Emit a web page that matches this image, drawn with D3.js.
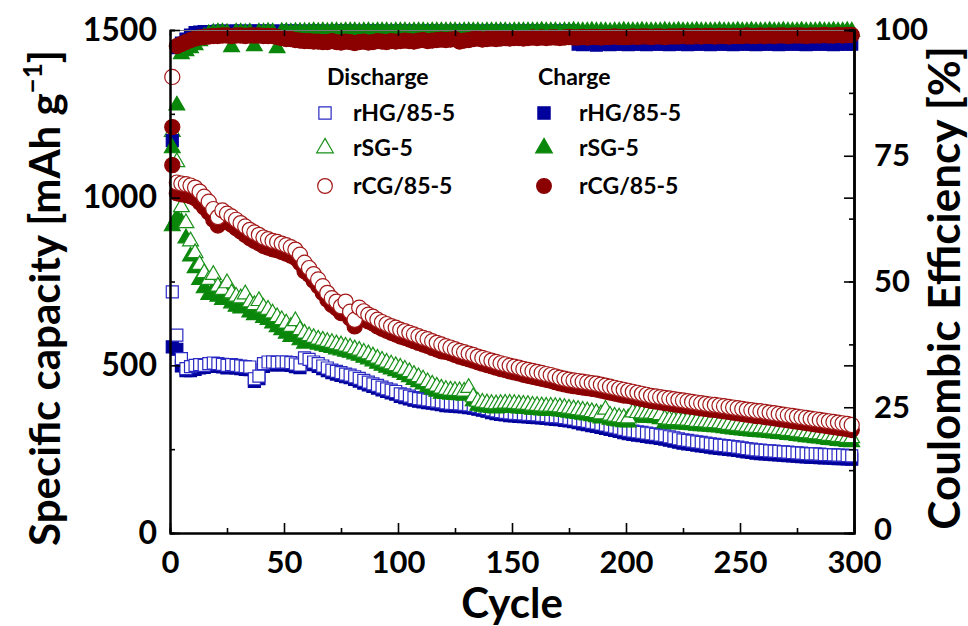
<!DOCTYPE html>
<html>
<head>
<meta charset="utf-8">
<script src="https://cdn.jsdelivr.net/npm/d3@7"></script>
<style>
body { margin: 0; background: #fff; }
text { font-family: Lato, "Open Sans", sans-serif; font-weight: bold; }
</style>
</head>
<body>
<div id="chart"></div>
<script>
// cycle numbers (every second cycle)
var cycles = d3.range(1, 300, 2);

// ---- rHG/85-5
var hgDis = [719,590,520,490,496,500,502,500,505,507,
  505,503,500,502,500,498,496,495,460,468,
  505,510,510,509,510,510,508,504,501,522,
  518,510,505,498,492,486,482,478,474,471,
  466,461,455,450,445,440,435,430,426,422,
  415,412,408,404,401,399,397,395,393,391,
  388,387,386,385,384,382,380,377,374,371,
  367,364,362,360,358,357,356,355,354,353,
  352,351,350,348,347,346,344,342,340,337,
  335,333,330,328,325,322,319,316,313,309,
  306,304,302,300,298,296,294,292,290,287,
  284,281,278,276,274,272,270,268,266,264,
  262,261,259,258,256,254,252,250,248,247,
  246,245,244,243,242,241,240,239,238,237,
  236,236,235,234,234,233,232,232,231,230];
var hgChg = [555,548,498,484,484,488,492,494,497,499,
  497,495,492,494,492,490,488,487,452,460,
  497,502,502,501,502,502,500,496,493,514,
  510,502,497,490,484,478,474,470,466,463,
  458,453,447,442,437,432,427,422,418,414,
  407,404,400,396,393,391,389,387,385,383,
  380,379,378,377,376,374,372,369,366,363,
  359,356,354,352,350,349,348,347,346,345,
  344,343,342,340,339,338,336,334,332,329,
  325,323,320,318,315,312,309,306,303,299,
  296,294,292,290,288,286,284,282,280,277,
  274,271,268,266,264,262,260,258,256,254,
  252,251,249,248,246,244,242,240,238,237,
  236,235,234,233,232,231,230,229,228,227,
  226,226,225,224,224,223,222,222,221,220];
var hgCE = [78.0,96.5,97.4,98.2,99.0,99.5,99.6,99.7,99.7,99.7,
  99.8,99.8,99.7,99.8,99.8,99.8,99.7,99.8,99.8,99.8,
  99.8,99.8,99.8,99.7,99.8,99.8,99.8,99.8,99.8,99.7,
  99.8,99.8,99.8,99.8,99.7,99.8,99.8,99.8,99.8,99.8,
  99.8,99.7,99.8,99.8,99.8,99.8,99.8,99.7,99.8,99.8,
  99.8,99.8,99.8,99.8,99.7,99.8,99.8,99.8,99.8,99.8,
  99.7,99.8,99.8,99.8,99.8,99.8,99.8,99.7,99.8,99.8,
  99.8,99.8,99.8,99.8,99.8,99.7,99.8,99.8,99.8,99.8,
  99.8,99.8,99.7,99.8,99.8,99.8,99.8,99.8,99.8,97.2,
  97.1,97.3,97.2,97.0,97.2,97.3,97.1,97.2,97.3,97.2,
  97.1,97.2,97.3,97.2,97.1,97.2,97.3,97.2,97.2,97.1,
  97.2,97.3,97.2,97.1,97.2,97.2,97.3,97.2,97.1,97.2,
  97.3,97.2,97.2,97.1,97.2,97.3,97.2,97.2,97.1,97.2,
  97.2,97.3,97.2,97.1,97.2,97.2,97.3,97.2,97.2,97.1,
  97.2,97.2,97.3,97.2,97.2,97.1,97.2,97.3,97.2,97.2];

// ---- rSG-5
var sgDis = [1196,1106,972,924,870,835,800,775,755,770,
  735,725,745,715,705,700,712,688,680,692,
  672,666,655,644,635,625,615,632,605,595,
  587,582,577,574,570,567,563,560,556,553,
  548,544,538,533,527,520,514,508,503,498,
  493,487,480,472,465,458,450,443,437,431,
  427,425,424,423,422,433,405,392,389,387,
  385,384,385,386,386,385,384,383,382,380,
  379,378,377,377,376,375,373,371,369,367,
  365,363,361,358,354,368,350,347,345,343,
  342,360,358,357,356,356,355,352,340,338,
  337,337,336,335,334,332,331,330,329,328,
  327,325,323,321,320,318,317,315,314,313,
  312,311,309,308,307,305,304,302,300,298,
  297,295,294,292,290,289,287,286,284,283];
var sgChg = [915,940,927,879,825,790,755,730,710,725,
  705,695,715,685,675,670,682,658,650,662,
  642,636,625,614,605,595,585,602,575,565,
  572,567,562,559,555,552,548,545,541,538,
  533,529,523,518,512,505,499,493,488,483,
  478,472,465,457,450,443,435,428,422,416,
  415,413,412,411,410,421,393,380,377,375,
  373,372,373,374,374,373,372,371,370,368,
  367,366,365,365,364,363,361,359,357,355,
  353,351,349,346,342,356,338,335,333,331,
  330,348,346,345,344,344,343,340,328,326,
  325,325,324,323,322,320,319,318,317,316,
  315,313,311,309,308,306,305,303,302,301,
  300,299,297,296,295,293,292,290,288,286,
  285,283,282,280,278,277,275,274,272,271];
var sgCE = [76.5,85.0,95.2,95.8,96.4,97.0,97.8,98.6,99.2,99.4,
  99.5,99.5,99.4,96.6,99.5,99.5,99.4,99.5,96.8,99.5,
  99.5,99.6,99.5,96.4,99.6,99.6,99.5,99.6,99.6,99.6,
  99.6,99.7,99.6,99.7,99.6,99.7,99.7,99.6,99.7,99.7,
  99.7,99.6,99.7,99.7,99.6,99.7,99.7,99.7,99.6,99.7,
  99.7,99.7,99.6,99.7,99.7,99.7,99.6,99.7,99.7,99.7,
  99.7,99.7,99.7,99.6,99.7,99.7,99.7,99.7,99.6,99.7,
  99.7,99.7,99.7,99.7,99.6,99.7,99.7,99.7,99.7,99.7,
  99.7,99.8,99.7,99.7,99.7,99.6,99.7,99.7,99.8,99.7,
  99.7,99.7,99.8,99.7,99.7,99.7,99.6,99.7,99.7,99.8,
  99.7,99.7,99.7,99.8,99.7,99.7,99.7,99.7,99.8,99.7,
  99.7,99.8,99.7,99.7,99.7,99.8,99.7,99.7,99.7,99.7,
  99.8,99.7,99.7,99.7,99.8,99.7,99.7,99.8,99.7,99.7,
  99.7,99.8,99.7,99.7,99.8,99.7,99.7,99.7,99.8,99.7,
  99.7,99.7,99.8,99.7,99.7,99.8,99.7,99.7,99.8,99.7];

// ---- rCG/85-5
var cgDis = [1360,1045,1042,1040,1036,1030,1018,1003,988,966,
  942,962,952,944,934,924,914,904,896,889,
  881,876,871,868,863,858,852,845,830,806,
  790,772,756,736,716,700,690,676,690,660,
  636,672,661,651,645,636,629,623,617,612,
  606,602,597,592,587,582,578,572,567,562,
  557,553,548,543,539,535,531,526,522,518,
  514,510,506,503,499,496,493,489,486,483,
  480,477,474,471,467,463,460,457,455,453,
  451,449,447,445,442,439,436,433,430,427,
  424,421,418,415,412,409,407,405,403,401,
  399,397,395,393,391,389,387,385,383,382,
  380,378,376,374,372,370,368,366,364,363,
  361,359,357,355,353,351,349,347,345,343,
  341,339,337,335,333,331,329,327,325,322];
var cgChg = [1097,1013,1010,1008,1004,998,986,971,956,934,
  917,937,927,919,909,899,889,879,871,864,
  856,851,846,843,838,833,827,820,805,781,
  770,752,736,716,696,680,670,656,670,640,
  616,652,641,631,625,616,609,603,597,592,
  586,582,577,572,567,562,558,552,547,542,
  540,536,531,526,522,518,514,509,505,501,
  497,493,489,486,482,479,476,472,469,466,
  463,460,457,454,450,446,443,440,438,436,
  434,432,430,428,425,422,419,416,413,410,
  409,406,403,400,397,394,392,390,388,386,
  384,382,380,378,376,374,372,370,368,367,
  365,363,361,359,357,355,353,351,349,348,
  346,344,342,340,338,336,334,332,330,328,
  326,324,322,320,318,316,314,312,310,307];
var cgCE = [80.7,96.8,97.2,97.6,98.0,98.3,98.5,98.6,98.7,98.8,
  98.8,98.9,98.9,98.8,98.9,98.9,98.8,98.9,98.9,98.9,
  98.8,98.8,98.8,98.6,98.4,98.2,98.2,98.0,97.9,97.8,
  97.8,97.7,97.7,97.6,97.6,97.8,97.6,97.5,97.7,97.6,
  97.4,97.6,97.7,97.5,97.6,97.8,97.7,97.6,97.8,97.7,
  97.8,97.9,97.8,97.7,97.9,98.0,97.8,97.9,98.0,98.1,
  98.0,98.1,98.2,97.7,97.9,98.0,98.2,98.3,98.1,98.2,
  98.3,98.2,98.3,98.4,98.3,98.4,98.4,98.3,98.4,98.5,
  98.4,98.5,98.4,98.5,98.5,98.4,98.5,98.6,98.5,98.5,
  98.6,98.5,98.6,98.6,98.5,98.6,98.6,98.7,98.6,98.6,
  98.6,98.7,98.6,98.7,98.7,98.6,98.7,98.7,98.6,98.7,
  98.7,98.7,98.8,98.7,98.7,98.8,98.7,98.8,98.8,98.7,
  98.8,98.8,98.7,98.8,98.8,98.8,98.9,98.8,98.8,98.9,
  98.8,98.9,98.8,98.9,98.9,98.8,98.9,98.9,98.9,98.8,
  98.9,98.9,98.9,99.0,98.9,98.9,99.0,98.9,99.0,99.0];

// axis ticks
var xTicks = [0,50,100,150,200,250,300];
var xMinor = [25,75,125,175,225,275];
var capTicks = [0,500,1000,1500];
var capMinor = [250,750,1250];
var ceTicks = [0,25,50,75,100];
var ceMinor = [12.5,37.5,62.5,87.5];

var W = 968, H = 626;
var pLeft = 170, pRight = 854, pTop = 30, pBottom = 533;

var svg = d3.select("#chart").append("svg")
    .attr("width", W).attr("height", H);

var x = d3.scaleLinear().domain([0,300]).range([pLeft, pRight]);
var yCap = d3.scaleLinear().domain([0,1500]).range([pBottom, pTop]);
var yCE = d3.scaleLinear().domain([0,100]).range([pBottom, pTop]);

var blue = "#00009c", blueOpen = "#2a2ac4";
var green = "#0a870a", greenOpen = "#179017";
var red = "#8b0000", redOpen = "#a31818";

var sq = d3.symbol().type(d3.symbolSquare).size(144);
var tri = d3.symbol().type(d3.symbolTriangle).size(108);
var circ = d3.symbol().type(d3.symbolCircle).size(180);

function drawSeries(vals, yScale, shape, fill, stroke) {
    svg.append("g").selectAll("path")
        .data(vals)
        .enter().append("path")
        .attr("d", shape)
        .attr("transform", function(d, i) {
            return "translate(" + x(cycles[i]) + "," + yScale(d) + ")";
        })
        .attr("fill", fill)
        .attr("stroke", stroke)
        .attr("stroke-width", 1.2);
}

// capacities: filled (charge) under open (discharge)
drawSeries(hgChg, yCap, sq, blue, blue);
drawSeries(hgDis, yCap, sq, "#fff", blueOpen);
drawSeries(sgChg, yCap, tri, green, green);
drawSeries(sgDis, yCap, tri, "#fff", greenOpen);
drawSeries(cgChg, yCap, circ, red, red);
drawSeries(cgDis, yCap, circ, "#fff", redOpen);
// coulombic efficiency
drawSeries(hgCE, yCE, sq, blue, blue);
drawSeries(sgCE, yCE, tri, green, green);
drawSeries(cgCE, yCE, circ, red, red);

// ---- Axes
function styleAxis(g, size) {
    g.select(".domain").attr("stroke", "#000").attr("stroke-width", 2);
    g.selectAll(".tick line").attr("stroke", "#000").attr("stroke-width", 1.6);
    g.selectAll("text").attr("font-family", "Lato, 'Open Sans', sans-serif")
        .attr("font-weight", "bold").attr("font-size", size).attr("fill", "#000");
}

var fmt = d3.format("d");

var gx = svg.append("g").attr("transform", "translate(0," + pBottom + ")")
    .call(d3.axisBottom(x).tickValues(xTicks).tickFormat(fmt).tickSize(-10).tickSizeOuter(0).tickPadding(18));
styleAxis(gx, 31);
svg.append("g").attr("transform", "translate(0," + pBottom + ")")
    .call(d3.axisBottom(x).tickValues(xMinor).tickSize(-5).tickFormat(""))
    .call(styleAxis, 30);
var gxt = svg.append("g").attr("transform", "translate(0," + pTop + ")")
    .call(d3.axisTop(x).tickValues(xTicks.concat(xMinor)).tickSize(-6).tickSizeOuter(0).tickFormat(""));
styleAxis(gxt, 30);
gxt.select(".domain").attr("stroke", "#777").attr("stroke-width", 1.2);

var gl = svg.append("g").attr("transform", "translate(" + pLeft + ",0)")
    .call(d3.axisLeft(yCap).tickValues(capTicks).tickFormat(fmt).tickSize(-10).tickSizeOuter(0).tickPadding(13));
styleAxis(gl, 32);
svg.append("g").attr("transform", "translate(" + pLeft + ",0)")
    .call(d3.axisLeft(yCap).tickValues(capMinor).tickSize(-5).tickFormat(""))
    .call(styleAxis, 30);

// left scale mirrored on the right side
svg.append("g").attr("transform", "translate(" + pRight + ",0)")
    .call(d3.axisRight(yCap).tickValues(capTicks).tickSize(-10).tickSizeOuter(0).tickFormat(""))
    .call(styleAxis, 30);
svg.append("g").attr("transform", "translate(" + pRight + ",0)")
    .call(d3.axisRight(yCap).tickValues(capMinor).tickSize(-5).tickFormat(""))
    .call(styleAxis, 30);

var gr = svg.append("g").attr("transform", "translate(" + pRight + ",0)")
    .call(d3.axisRight(yCE).tickValues(ceTicks).tickFormat(fmt).tickSize(-10).tickSizeOuter(0).tickPadding(20));
styleAxis(gr, 31);
// lift the bottom "0" a little so it clears the x-axis "300"
gr.selectAll(".tick text").filter(function(d) { return d === 0; }).attr("dy", "0.2em");
svg.append("g").attr("transform", "translate(" + pRight + ",0)")
    .call(d3.axisRight(yCE).tickValues(ceMinor).tickSize(-5).tickFormat(""))
    .call(styleAxis, 30);

// ---- Axis titles
svg.append("text")
    .attr("x", (pLeft + pRight) / 2)
    .attr("y", 618)
    .attr("text-anchor", "middle")
    .attr("font-size", 42)
    .text("Cycle");

var yl = svg.append("text")
    .attr("transform", "translate(60,298) rotate(-90)")
    .attr("text-anchor", "middle")
    .attr("font-size", 42);
yl.append("tspan").text("Specific capacity [mAh g");
yl.append("tspan").attr("font-size", 26).attr("dy", -18).text("\u22121");
yl.append("tspan").attr("dy", 18).text("]");

svg.append("text")
    .attr("transform", "translate(960,288) rotate(-90)")
    .attr("text-anchor", "middle")
    .attr("font-size", 44)
    .text("Coulombic Efficiency [%]");

// ---- Legend
var legNames = ["rHG/85-5", "rSG-5", "rCG/85-5"];
var legColors = [blue, green, red];
var legOpen = [blueOpen, greenOpen, redOpen];
var legShapes = [
    d3.symbol().type(d3.symbolSquare).size(150),
    d3.symbol().type(d3.symbolTriangle).size(120),
    d3.symbol().type(d3.symbolCircle).size(170)
];
var legRowY = [113, 148, 186];

svg.append("text").attr("x", 327).attr("y", 85).attr("font-size", 23).text("Discharge");
svg.append("text").attr("x", 538).attr("y", 85).attr("font-size", 23).text("Charge");

legNames.forEach(function(name, i) {
    svg.append("path").attr("d", legShapes[i])
        .attr("transform", "translate(325," + legRowY[i] + ")")
        .attr("fill", "#fff").attr("stroke", legOpen[i]).attr("stroke-width", 1.2);
    svg.append("text").attr("x", 353).attr("y", legRowY[i] + 8)
        .attr("font-size", 23).text(name);
    svg.append("path").attr("d", legShapes[i])
        .attr("transform", "translate(544," + legRowY[i] + ")")
        .attr("fill", legColors[i]).attr("stroke", legColors[i]).attr("stroke-width", 1.2);
    svg.append("text").attr("x", 579).attr("y", legRowY[i] + 8)
        .attr("font-size", 23).text(name);
});
</script>
</body>
</html>
